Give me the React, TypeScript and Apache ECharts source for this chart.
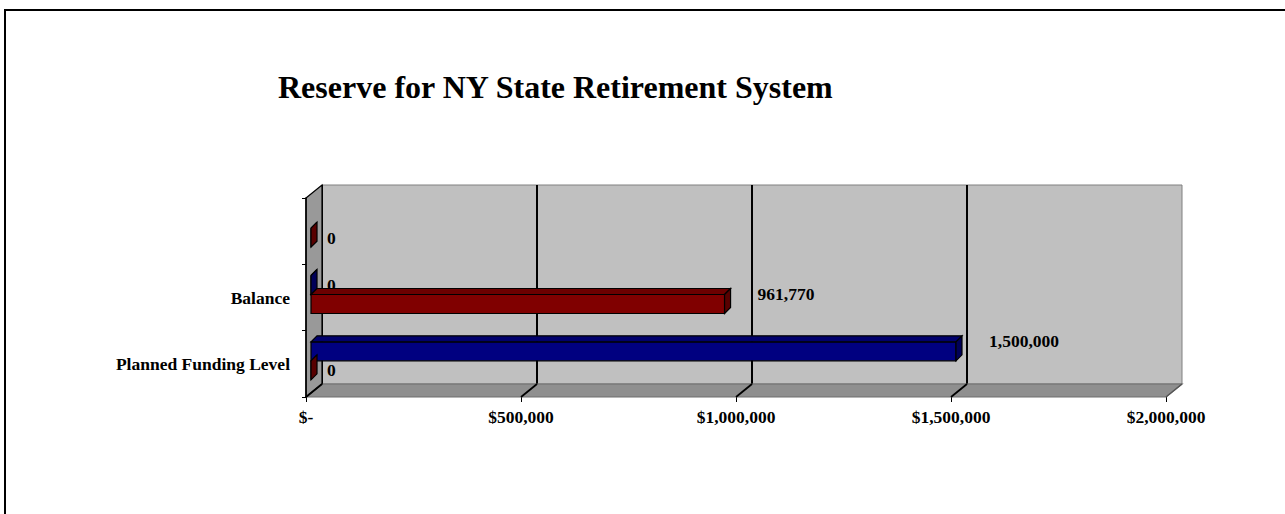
import React, { useEffect, useRef } from "react";
import * as echarts from "echarts";

// ---- data ----
const categories: string[] = ["Planned Funding Level", "Balance", ""];
const blueValues: (number | null)[] = [1500000, 0, null];
const redValues: (number | null)[] = [0, 961770, 0];
const axisTickValues: number[] = [0, 500000, 1000000, 1500000, 2000000];
const titleText = "Reserve for NY State Retirement System";

// ---- layout / style constants ----
const FONT = "'Liberation Serif', 'Times New Roman', serif";
const FRONT = { left: 306, top: 198, width: 860, height: 199 };
const DX = 16;
const DY = -13;
const BAR_W = 19;
const BAR_D = 6;
const BAR_SHIFT_X = 5;
const BAR_SPLIT = -3;

const toItems = (vals: (number | null)[]) =>
  vals
    .map((v, i) => (v === null ? null : [v, i]))
    .filter((d) => d !== null) as number[][];

const fmt = (v: number) => v.toLocaleString("en-US");

function barRenderer(pos: 0 | 1, front: string, top: string, side: string) {
  return (params: any, api: any) => {
    const v = api.value(0) as number;
    const ci = api.value(1) as number;
    const end = api.coord([v, ci]);
    const start = api.coord([0, ci]);
    const split = end[1] + BAR_SPLIT;
    const yT = pos === 0 ? split - BAR_W : split;
    const yB = yT + BAR_W;
    const x0 = start[0] + BAR_SHIFT_X;
    const x1 = end[0] + BAR_SHIFT_X;
    const d = BAR_D;
    const edge = { stroke: "#000", lineWidth: 1.2 };
    const cy = (yT + yB) / 2;
    return {
      type: "group",
      children: [
        {
          type: "rect",
          shape: { x: x0, y: yT, width: x1 - x0, height: BAR_W },
          style: { fill: front, ...edge },
        },
        {
          type: "polygon",
          shape: { points: [[x0, yT], [x1, yT], [x1 + d, yT - d], [x0 + d, yT - d]] },
          style: { fill: top, ...edge },
        },
        {
          type: "polygon",
          shape: { points: [[x1, yT], [x1 + d, yT - d], [x1 + d, yB - d], [x1, yB]] },
          style: { fill: side, ...edge },
        },
        {
          type: "text",
          style: {
            text: fmt(v),
            x: v > 0 ? x1 + 33 : x1 + 16,
            y: v > 0 ? cy - 10.5 : cy,
            fill: "#000",
            fontSize: 17.5,
            fontWeight: "bold",
            fontFamily: FONT,
            align: "left",
            verticalAlign: "middle",
          },
        },
      ],
    };
  };
}

function frameRenderer(params: any, api: any) {
  const cs = params.coordSys;
  const bottom = cs.y + cs.height;
  const top = cs.y;
  const v = api.value(0) as number;
  const x = api.coord([v, 0])[0];
  const children: any[] = [];
  if (params.dataIndex === 0) {
    children.push({
      type: "polygon",
      shape: {
        points: [
          [cs.x, bottom],
          [cs.x + cs.width, bottom],
          [cs.x + cs.width + DX, bottom + DY],
          [cs.x + DX, bottom + DY],
        ],
      },
      style: { fill: "#8F8F8F", stroke: "#6E6E6E", lineWidth: 1.2 },
    });
    children.push({
      type: "polygon",
      shape: {
        points: [
          [cs.x, top],
          [cs.x + DX, top + DY],
          [cs.x + DX, bottom + DY],
          [cs.x, bottom],
        ],
      },
      style: { fill: "#999999", stroke: "#000", lineWidth: 1.2 },
    });
  }
  const isLast = params.dataIndex === axisTickValues.length - 1;
  children.push({
    type: "line",
    shape: { x1: x, y1: bottom, x2: x + DX, y2: bottom + DY },
    style: { stroke: isLast ? "#555" : "#000", lineWidth: isLast ? 1.2 : 1.8 },
  });
  return { type: "group", children };
}

export default function App() {
  const ref = useRef<HTMLDivElement>(null);
  useEffect(() => {
    if (!ref.current) return;
    const chart = echarts.init(ref.current, undefined, { renderer: "svg" });
    const valueAxisBase = {
      type: "value",
      min: 0,
      max: 2000000,
      interval: 500000,
    };
    chart.setOption({
      animation: false,
      backgroundColor: "#fff",
      grid: [
        { ...FRONT, containLabel: false },
        {
          left: FRONT.left + DX,
          top: FRONT.top + DY,
          width: FRONT.width,
          height: FRONT.height,
          show: true,
          backgroundColor: "#C0C0C0",
          borderColor: "#808080",
          borderWidth: 1,
          z: 0,
        },
      ],
      xAxis: [
        {
          ...valueAxisBase,
          gridIndex: 0,
          axisLine: { show: false },
          axisTick: { show: true, length: 5, lineStyle: { color: "#000", width: 1 } },
          splitLine: { show: false },
          axisLabel: {
            margin: 11,
            color: "#000",
            fontSize: 17.5,
            fontWeight: "bold",
            fontFamily: FONT,
            formatter: (v: number) => (v === 0 ? "$-" : "$" + fmt(v)),
          },
        },
        {
          ...valueAxisBase,
          gridIndex: 1,
          axisLine: { show: false },
          axisTick: { show: false },
          axisLabel: { show: false },
          splitLine: {
            show: true,
            showMaxLine: false,
            lineStyle: { color: "#000", width: 2 },
          },
        },
      ],
      yAxis: [
        {
          type: "category",
          gridIndex: 0,
          data: categories,
          axisLine: { show: true, lineStyle: { color: "#000", width: 1.5 } },
          axisTick: { show: true, length: 4, lineStyle: { color: "#000" } },
          axisLabel: {
            margin: 16,
            color: "#000",
            fontSize: 17.5,
            fontWeight: "bold",
            fontFamily: FONT,
          },
          z: 4,
        },
        {
          type: "category",
          gridIndex: 1,
          data: categories,
          show: false,
        },
      ],
      graphic: [
        {
          type: "rect",
          shape: { x: 5, y: 10, width: 1400, height: 700 },
          style: { fill: "none", stroke: "#000", lineWidth: 2 },
          z: 10,
        },
        {
          type: "text",
          x: 278,
          y: 87,
          style: {
            text: titleText,
            fill: "#000",
            fontSize: 32,
            fontWeight: "bold",
            fontFamily: FONT,
            align: "left",
            verticalAlign: "middle",
          },
          z: 10,
        },
      ],
      series: [
        {
          type: "custom",
          name: "frame",
          xAxisIndex: 0,
          yAxisIndex: 0,
          data: axisTickValues.map((v) => [v, 0]),
          renderItem: frameRenderer,
          clip: false,
          silent: true,
          z: 1,
        },
        {
          type: "custom",
          name: "Series 1",
          xAxisIndex: 0,
          yAxisIndex: 0,
          data: toItems(blueValues),
          renderItem: barRenderer(0, "#000080", "#00006C", "#000058"),
          clip: false,
          z: 3,
        },
        {
          type: "custom",
          name: "Series 2",
          xAxisIndex: 0,
          yAxisIndex: 0,
          data: toItems(redValues),
          renderItem: barRenderer(1, "#800000", "#6C0000", "#580000"),
          clip: false,
          z: 3,
        },
      ],
    });
    return () => chart.dispose();
  }, []);
  return (
    <div
      ref={ref}
      style={{ position: "absolute", left: 0, top: 0, width: 1285, height: 514 }}
    />
  );
}
